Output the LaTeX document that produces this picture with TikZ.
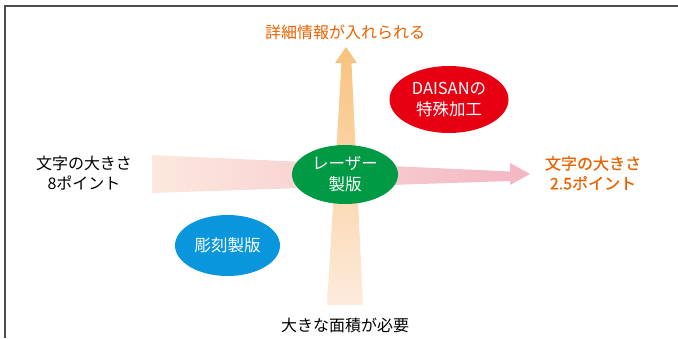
\documentclass[tikz,border=0pt]{standalone}
\usepackage{fontspec}
\setmainfont{Noto Sans CJK JP}
\newfontfamily\medfont[FakeBold=0.6]{Noto Sans CJK JP}
\usetikzlibrary{shapes.geometric}
\definecolor{frameg}{HTML}{4D4D4D}
\definecolor{dorange}{HTML}{EB6100}
\definecolor{dgreen}{HTML}{009944}
\definecolor{dred}{HTML}{E60012}
\definecolor{dblue}{HTML}{0A96DC}
\definecolor{hleft}{HTML}{FCE8DE}
\definecolor{hright}{HTML}{F3B6C3}
\definecolor{vtop}{HTML}{F8C27C}
\definecolor{vbot}{HTML}{FDEBDD}
\tikzset{
  lbl/.style={align=center, font=\fontsize{16}{20}\selectfont, inner sep=0pt},
  blob/.style={ellipse, inner sep=0pt, text=white, align=center, font=\fontsize{16.5}{21}\selectfont}
}
\begin{document}
\begin{tikzpicture}[x=1pt,y=-1pt]
\useasboundingbox (0,0) rectangle (678,338);
% frame
\draw[frameg, line width=1.5pt] (5,338) -- (5,6) -- (678,6);
% coordinates of the axes
\coordinate (hL) at (152,174);
\coordinate (hT) at (530,174);
\coordinate (vB) at (345,305);
\coordinate (vT) at (346,47);
% horizontal arrow
\shade[left color=hleft, right color=hright]
  (hL) ++(0,-19) -- (510,171.5) -- (510,163) -- (hT) -- (510,185) -- (510,181) -- (152,193) -- cycle;
% vertical arrow
\shade[bottom color=vbot, top color=vtop]
  (327,305) -- (341.5,63) -- (335,63) -- (vT) -- (357,63) -- (351.5,63) -- (363,305) -- cycle;
% ellipses
\node[blob, fill=dgreen, minimum width=106pt, minimum height=59pt] (laser) at (345,174.5) {レーザー\\製版};
\node[blob, fill=dred, minimum width=119pt, minimum height=67pt] (daisan) at (449,99.5) {DAISANの\\特殊加工};
\node[blob, fill=dblue, minimum width=105pt, minimum height=61pt] (chokoku) at (227.5,245.5) {彫刻製版};
% labels
\node[lbl, text=dorange] (top) at (345,32) {詳細情報が入れられる};
\node[lbl, text=black] (left) at (84,173) {文字の大きさ\\8ポイント};
\node[lbl, text=dorange, font=\fontsize{16}{20}\selectfont\medfont] (right) at (593,173) {文字の大きさ\\2.5ポイント};
\node[lbl, text=black] (bottom) at (345,325) {大きな面積が必要};
\end{tikzpicture}
\end{document}
